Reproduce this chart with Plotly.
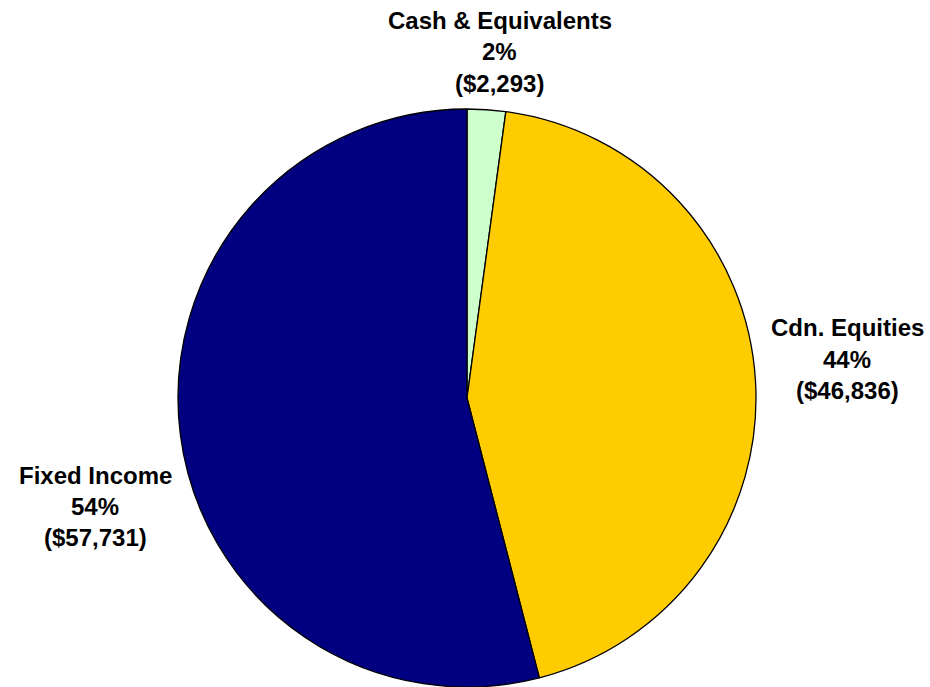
import plotly.graph_objects as go

labels = ["Cash & Equivalents", "Cdn. Equities", "Fixed Income"]
values = [2293, 46836, 57731]
colors = ["#CCFFCC", "#FFCC00", "#000080"]

# label anchor positions (pixels from top-left) for the text blocks
label_x = [500, 847, 95]
label_y = [21, 328, 475]
line_gap = 31

W, H = 930, 687
total = sum(values)

fig = go.Figure(go.Pie(
    labels=labels,
    values=values,
    marker=dict(colors=colors, line=dict(color="black", width=1.3)),
    sort=False,
    direction="clockwise",
    rotation=0,
    textinfo="none",
    hoverinfo="label+value+percent",
    domain=dict(x=[178 / W, 756 / W], y=[0, 578 / H]),
    showlegend=False,
))

annotations = []
for lab, val, lx, ly in zip(labels, values, label_x, label_y):
    pct = round(val / total * 100)
    lines = [lab, f"{pct}%", f"(${val:,})"]
    for i, t in enumerate(lines):
        annotations.append(dict(
            text=f"<b>{t}</b>",
            x=lx / W, y=1 - (ly + i * line_gap) / H,
            xref="paper", yref="paper",
            xanchor="center", yanchor="middle",
            showarrow=False,
            font=dict(family="Liberation Sans, Arial, sans-serif", size=24, color="black"),
        ))

fig.update_layout(
    width=W, height=H,
    margin=dict(l=0, r=0, t=0, b=0),
    paper_bgcolor="white",
    plot_bgcolor="white",
    annotations=annotations,
)

fig.write_html("out.html", config={"displayModeBar": False},
               post_script="document.body.style.margin='0';")
